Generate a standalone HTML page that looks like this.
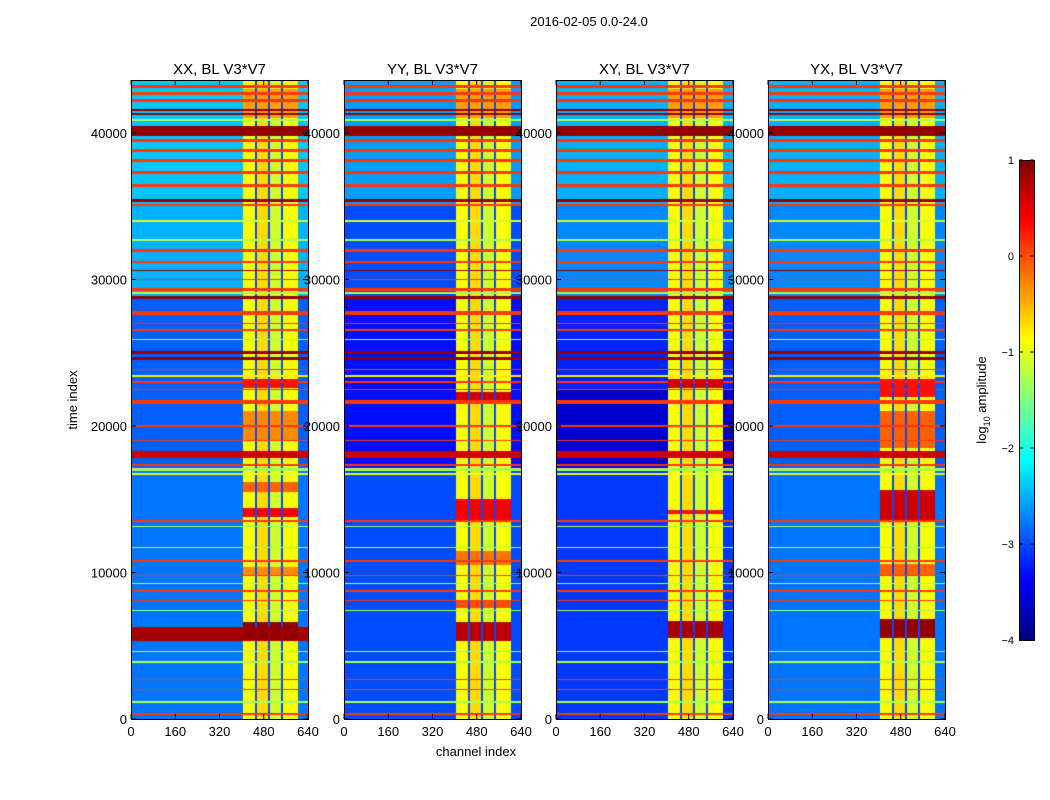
<!DOCTYPE html>
<html><head><meta charset="utf-8"><style>
body{margin:0;background:#fff;}
#wrap{position:relative;width:1050px;height:800px;overflow:hidden;font-family:"Liberation Sans",sans-serif;}
canvas{position:absolute;}
svg{position:absolute;left:0;top:0;}
</style></head><body>
<div id="wrap">
<svg id="ov" width="1050" height="800"></svg>
</div>
<script>
// ---- data ----
const panelTitles = ["XX, BL V3*V7","YY, BL V3*V7","XY, BL V3*V7","YX, BL V3*V7"];
const xTicks = [0,160,320,480,640];
const yTicks = [0,10000,20000,30000,40000];
const cbTicks = [1,0,-1,-2,-3,-4];
// background level per time segment [t0,t1,log10amp]
const bgXX = [[35000,43700,-2.4],[28800,35000,-2.5],[17000,28800,-2.9],[0,17000,-2.8]];
const bgYY = [[35000,43700,-2.6],[28800,35000,-3.0],[17000,28800,-3.3],[0,17000,-3.0]];
const bgXY = [[35000,43700,-2.5],[28800,35000,-2.7],[22500,28800,-3.2],[17000,22500,-3.6],[0,17000,-3.1]];
const bgYX = [[35000,43700,-2.5],[28800,35000,-2.7],[17000,28800,-2.9],[0,17000,-2.8]];
// channel stripes of bright region [ch0,ch1,level]
const stripes = [[405,448,-0.9],[448,456,-3.0],[456,497,-0.7],[497,503,-3.0],[503,542,-1.1],[542,549,-3.0],[549,604,-0.9]];
// full-width RFI bands [t0,t1,level]
const bands = [[43100,43300,0.1],[42600,42800,0.1],[42150,42350,0.1],[41500,41650,0.9],[41200,41350,0.9],[40800,40950,-1.3],
[39800,40500,0.9],[39400,39600,0.1],[38700,38900,0.1],[38050,38250,0.1],[37200,37400,0.1],[36300,36500,0.1],[35300,35500,0.9],
[35000,35150,0.1],[33950,34050,-1.1],[32650,32750,-1.3],[31900,32050,0.1],[31100,31250,0.1],[30550,30650,0.9],[29950,30050,0.1],
[29200,29450,0.1],[29000,29150,-1.3],[28650,28900,0.9],[27550,27850,0.1],[26950,27050,0.1],[26500,26600,0.1],[25850,25950,-1.3],
[24900,25150,0.9],[24500,24700,0.9],[23800,23900,0.1],[23350,23450,-0.8],[22950,23050,0.1],[22450,22550,0.1],[21500,21800,0.1],
[19950,20050,0.1],[18950,19050,0.1],[17800,18300,0.6],[17300,17400,0.1],[16950,17100,-1.3],[16650,16800,-1.0],[13450,13550,0.1],
[13100,13200,-1.3],[11650,11750,-1.3],[10750,10850,0.1],[9750,9850,0.1],[9200,9300,-1.3],[8700,8800,0.1],[8050,8150,0.1],
[7350,7450,-1.3],[4550,4650,-1.3],[3850,3950,-1.3],[2650,2750,0.1],[1950,2050,0.1],[1100,1200,-1.3],[300,400,0.1]];
// patches inside bright stripes [t0,t1,level]
const patchesXX = [[41000,43000,-0.4],[22600,23200,0.3],[19000,21000,-0.3],[13800,14400,0.4],[15500,16200,-0.1],[9800,10400,-0.3],[5400,6600,0.9]];
const patchesYY = [[41000,43000,-0.4],[21800,22300,0.6],[13600,15000,0.4],[10500,11500,-0.2],[7600,8100,0.0],[5300,6600,0.7]];
const patchesXY = [[41000,43000,-0.4],[22600,23200,0.6],[14000,14300,0.3],[5500,6700,0.8]];
const patchesYX = [[41000,43000,-0.4],[22000,23200,0.3],[18500,21000,-0.1],[13600,15600,0.6],[9800,10600,-0.1],[5500,6800,0.9]];
// XX has a broadband full-width event
const wideXX = [[5300,6300,0.8]];
</script>
<script>
const panels = [
 {x:131,bg:bgXX,pt:patchesXX,wide:wideXX},
 {x:344,bg:bgYY,pt:patchesYY,wide:[]},
 {x:556,bg:bgXY,pt:patchesXY,wide:[]},
 {x:768,bg:bgYX,pt:patchesYX,wide:[]}];
const PW=177, PT=80, PB=719, TMAX=(PB-PT)*68.26;
const yOf = t => PB - t/TMAX*(PB-PT);
const xOf = (px0,c) => px0 + c/640*PW;
function jet(v){ // v in [-4,1]
  let f=(v+4)/5; f=Math.max(0,Math.min(1,f));
  const r=Math.max(0,Math.min(1,Math.min(4*f-1.5,-4*f+4.5)));
  const g=Math.max(0,Math.min(1,Math.min(4*f-0.5,-4*f+3.5)));
  const b=Math.max(0,Math.min(1,Math.min(4*f+0.5,-4*f+2.5)));
  return [r*255|0,g*255|0,b*255|0];
}
const wrap=document.getElementById('wrap');
const ov=document.getElementById('ov');
const NS='http://www.w3.org/2000/svg';
function txt(x,y,s,size,anchor,name,rot){
  const t=document.createElementNS(NS,'text');
  t.setAttribute('x',x);t.setAttribute('y',y);t.setAttribute('font-size',size);
  t.setAttribute('text-anchor',anchor);t.setAttribute('font-family','Liberation Sans, sans-serif');
  if(rot) t.setAttribute('transform','rotate(-90 '+x+' '+y+')');
  t.textContent=s;
  
  
  ov.appendChild(t);return t;
}
function line(x1,y1,x2,y2,name){
  const l=document.createElementNS(NS,'line');
  l.setAttribute('x1',x1);l.setAttribute('y1',y1);l.setAttribute('x2',x2);l.setAttribute('y2',y2);
  l.setAttribute('stroke','#000');l.setAttribute('stroke-width','1');
  
  
  ov.appendChild(l);
}
txt(589,26,"2016-02-05 0.0-24.0",13,'middle','figure-title');
panels.forEach((p,i)=>{
  const H=PB-PT;
  const cv=document.createElement('canvas');
  cv.width=PW;cv.height=H;cv.style.left=p.x+'px';cv.style.top=PT+'px';
  
  
  wrap.insertBefore(cv,ov);
  const ctx=cv.getContext('2d');const img=ctx.createImageData(PW,H);
  for(let py=0;py<H;py++){
    const t=(H-py-0.5)/H*TMAX;
    let base=-3;
    for(const s of p.bg) if(t>=s[0]&&t<s[1]) base=s[2];
    let band=null;
    for(const b of bands) if(t>=b[0]&&t<b[1]) band=b[2];
    for(const w of p.wide) if(t>=w[0]&&t<w[1]) band=Math.max(band===null?-9:band,w[2]);
    let patch=null;
    for(const q of p.pt) if(t>=q[0]&&t<q[1]) patch=q[2];
    for(let px=0;px<PW;px++){
      const c=(px+0.5)/PW*640;
      let v=base;
      for(const s of stripes) if(c>=s[0]&&c<s[1]){ v=s[2]; if(patch!==null&&s[2]>-2) v=Math.max(v,patch); }
      if(band!==null) v=(band<-0.5)?band:Math.max(v,band);
      const col=jet(v);const k=(py*PW+px)*4;
      img.data[k]=col[0];img.data[k+1]=col[1];img.data[k+2]=col[2];img.data[k+3]=255;
    }
  }
  ctx.putImageData(img,0,0);
  const r=document.createElementNS(NS,'rect');
  r.setAttribute('x',p.x+0.5);r.setAttribute('y',PT+0.5);r.setAttribute('width',PW);r.setAttribute('height',H);
  r.setAttribute('fill','none');r.setAttribute('stroke','#000');
  
  
  ov.appendChild(r);
  txt(p.x+PW/2,74,panelTitles[i],15,'middle','panel-title-'+(i+1));
  xTicks.forEach(v=>{const x=xOf(p.x,v);line(x,PB,x,PB-5,'x-tick');line(x,PT,x,PT+5,'x-tick');
    txt(x,736,String(v),13,'middle','x-tick-label');});
  yTicks.forEach(v=>{const y=yOf(v);line(p.x,y,p.x+5,y,'y-tick');line(p.x+PW,y,p.x+PW-5,y,'y-tick');
    txt(p.x-4,y+5,String(v),13,'end','y-tick-label');});
});
txt(476,756,"channel index",13,'middle','x-axis-title');
txt(77,400,"time index",13,'middle','y-axis-title',true);
const cb=document.createElement('canvas');cb.width=15;cb.height=480;cb.style.left='1019px';cb.style.top='160px';


wrap.insertBefore(cb,ov);
const cctx=cb.getContext('2d');
for(let y=0;y<480;y++){const c=jet(1-(y+0.5)/480*5);cctx.fillStyle='rgb('+c+')';cctx.fillRect(0,y,15,1);}
const cr=document.createElementNS(NS,'rect');cr.setAttribute('x',1019.5);cr.setAttribute('y',160.5);cr.setAttribute('width',15);cr.setAttribute('height',480);
cr.setAttribute('fill','none');cr.setAttribute('stroke','#000');


ov.appendChild(cr);
cbTicks.forEach(v=>{const y=160+(1-v)*96;line(1019,y,1023,y,'colorbar-tick');line(1034,y,1030,y,'colorbar-tick');
  txt(1014,y+4,v<0?'\u2212'+(-v):String(v),11,'end','colorbar-tick-label');});
const lab=txt(986,400,"",13,'middle','colorbar-label',true);
lab.innerHTML='log<tspan font-size="9" dy="4">10</tspan><tspan dy="-4"> amplitude</tspan>';
</script>
</body></html>
